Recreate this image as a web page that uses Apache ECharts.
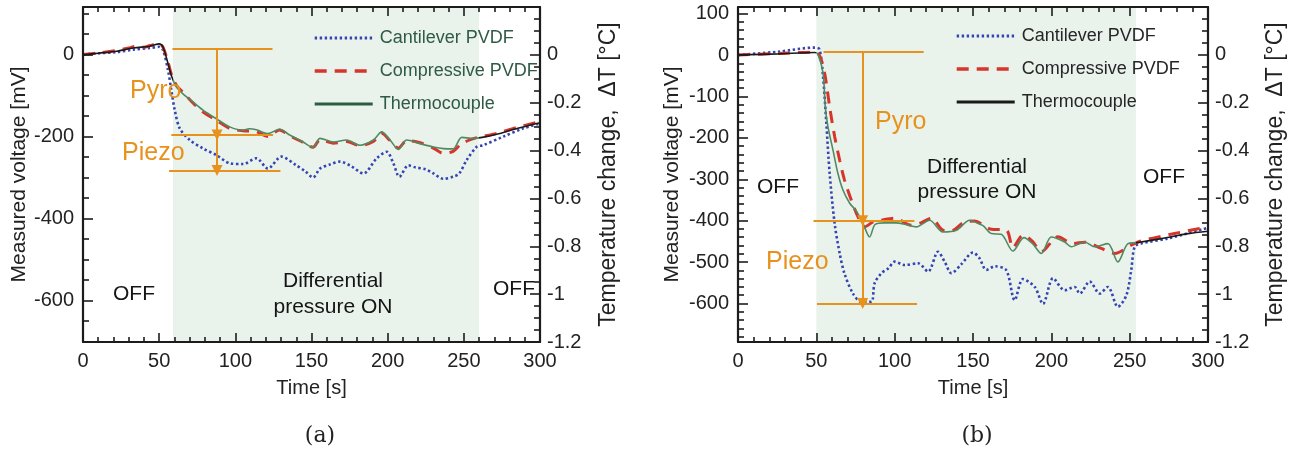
<!DOCTYPE html>
<html><head><meta charset="utf-8">
<script src="https://cdn.jsdelivr.net/npm/echarts@6/dist/echarts.min.js"></script>
<style>html,body{margin:0;padding:0;background:#fff}#c{width:1302px;height:452px}</style>
</head><body><div id="c"></div>
<script>
// ---------- data: panel (a) ----------
const aCantT = [0,10,22,33,44,50,52.5,55.8,58,60.2,63.5,70,78.8,87.5,96.3,105,113.8,121.4,130.2,140,146,151,155.6,162,168.7,176,184,192.8,199.4,203.7,207.7,213.6,218,225,230,236.6,243,247,251.9,258.5,262.8,276,289,300];
const aCantV = [0,3,6,12,16,19,11,-38,-87,-135,-180,-208,-229,-245,-265,-267,-253,-278,-249,-270,-285,-300,-278,-268,-261,-272,-290,-253,-237,-265,-298,-270,-275,-280,-290,-303,-298,-290,-257,-225,-221,-200,-180,-168];
const aCompT = [0,10,22,30,35,40,44,50,52.5,55.8,58,61.3,65.6,72.2,78.8,87.5,96.3,105,113.8,121.4,129,135.7,144.4,151,155.6,164.4,173,181.9,190.6,196.1,201.6,207,212.5,221.3,230,236.6,243,248.6,256.3,262,271.6,284.8,300];
const aCompV = [0,4,10,16,20,18,22,27,18,-18,-48,-75,-92,-118,-140,-160,-180,-186,-188,-200,-184,-198,-214,-226,-208,-216,-212,-222,-212,-192,-210,-228,-210,-215,-228,-241,-236,-217,-205,-200,-192,-178,-163];
const aThermoT = [0,10,22,33,44,50,52.5,55.8,58,61.3,65.6,72.2,78.8,87.5,96.3,105,109,113.8,121.4,129,135.7,144.4,151,155.6,164.4,173,181.9,190.6,196.1,201.6,207,212.5,221.3,230,236.6,243,248.6,256.3,262,271.6,284.8,300];
const aThermoC = [0,0.007,0.015,0.029,0.036,0.046,0.033,-0.036,-0.086,-0.134,-0.163,-0.197,-0.231,-0.267,-0.301,-0.315,-0.309,-0.313,-0.329,-0.311,-0.335,-0.364,-0.387,-0.349,-0.364,-0.356,-0.378,-0.356,-0.322,-0.356,-0.395,-0.356,-0.371,-0.385,-0.392,-0.393,-0.345,-0.349,-0.345,-0.332,-0.308,-0.284];
const aOn = [59, 260];
// orange annotation (a): [x1, y1, x2, y2] in data units (mV)
const aLevels = [[58.7,15,124.4,15],[58,-196,124.8,-196],[56.5,-283,129.6,-283]];
const aArrowX = 88;

// ---------- data: panel (b) ----------
const bCantT = [0,25.5,49,52,54.3,56.4,58.5,61.7,64.9,68,73.4,78.7,85.1,87.2,91.5,96,100,106.4,115,121.3,127.7,132,136.2,142.6,150,154,158.5,164,171.3,176.6,181.9,189.4,194.7,201.1,208.5,214.9,218.1,224.5,230.9,236.1,242.5,247.9,251,253.2,257.4,274.5,300];
const bCantV = [0,8,18,14,-52,-165,-286,-407,-479,-528,-576,-596,-596,-551,-527,-515,-499,-507,-503,-523,-475,-500,-527,-505,-477,-490,-519,-510,-520,-592,-541,-560,-601,-539,-568,-560,-576,-547,-576,-560,-608,-580,-519,-463,-455,-443,-417];
const bCompT = [0,25.5,49,51,53.2,55.7,58.5,61.7,64.9,68,72.3,76.6,80.9,86.2,91.5,100,110.6,117,123.4,130.8,136,144.7,151,161,171.3,175.5,181.9,188,193.6,204.2,213.9,221.3,231.9,240.4,251,257.4,278.7,300];
const bCompV = [0,3.6,7,5,-12,-52,-125,-197,-254,-302,-350,-391,-415,-403,-399,-394,-411,-405,-394,-423,-425,-403,-401,-420,-423,-465,-435,-450,-475,-439,-455,-452,-467,-479,-459,-449,-431,-415];
const bThermoT = [0,25.5,49,51,54.3,55.7,57.4,60.6,63.8,67,71.3,75.5,79.8,84,87.5,93.6,101,107,113.8,122.3,130.8,139.4,147.9,151,156.4,161.7,168,175.5,182.5,188,193.6,200,208.5,212.8,221.3,227.6,236.1,242.5,248.9,254.2,270.2,287.2,300];
const bThermoC = [0,0.004,0.010,0.003,-0.076,-0.217,-0.300,-0.397,-0.496,-0.565,-0.620,-0.652,-0.705,-0.761,-0.709,-0.702,-0.702,-0.709,-0.719,-0.691,-0.740,-0.733,-0.691,-0.698,-0.714,-0.747,-0.750,-0.820,-0.764,-0.789,-0.830,-0.761,-0.782,-0.802,-0.782,-0.802,-0.789,-0.865,-0.789,-0.785,-0.768,-0.747,-0.737];
const bOn = [50, 254];
const bLevels = [[54.6,8,118.5,8],[48.2,-400,112.6,-400],[50.4,-600,114.3,-600]];
const bArrowX = 79.6;

// ---------- ticks ----------
const aLeftMajor = [-600,-400,-200,0];
const bLeftMajor = [-600,-500,-400,-300,-200,-100,0,100];
const aLeftMinor = []; for (let v = -700; v <= 100; v += 50) if (v % 200 !== 0) aLeftMinor.push(v);
const bLeftMinor = []; for (let v = -680; v <= 100; v += 20) if (v % 100 !== 0) bLeftMinor.push(v);

const zip = (t, v) => t.map((x, i) => [x, v[i]]);
const FONT = '"Liberation Sans", Arial, sans-serif';
const AX = '#1c1c1c';
const ORANGE = '#e8921e';
const BLUE = '#3444b2';
const RED = '#d6352b';
const GREEN = '#4f8a63';
const SHADE = '#e9f3ec';
const NONE = 'rgba(0,0,0,0)';

function xAxesFor(g) {
  const common = {gridIndex: g, type: 'value', min: 0, max: 300, interval: 50,
    axisLine: {onZero: false, lineStyle: {color: AX, width: 2.2}},
    axisTick: {inside: true, length: 9, lineStyle: {color: AX, width: 1.6}},
    minorTick: {show: true, splitNumber: 5, length: 5, lineStyle: {color: AX, width: 1.6}},
    splitLine: {show: false}, minorSplitLine: {show: false}, z: 10};
  return [
    Object.assign({}, common, {position: 'bottom',
      axisLabel: {margin: 9, fontSize: 20, color: '#222', fontFamily: FONT},
      name: 'Time [s]', nameLocation: 'middle', nameGap: 36,
      nameTextStyle: {fontSize: 20, color: '#222', fontFamily: FONT}}),
    Object.assign({}, common, {position: 'top', axisLabel: {show: false}})
  ];
}
function yAxesFor(g, min, max, majors, minors, gapL, gapR) {
  return [
    {gridIndex: g, type: 'value', min: min, max: max, position: 'left', z: 10,
      axisLine: {onZero: false, lineStyle: {color: AX, width: 2.2}},
      axisTick: {inside: true, length: 10, customValues: majors, lineStyle: {color: AX, width: 1.6}},
      axisLabel: {customValues: majors, margin: 9, fontSize: 20, color: '#222', fontFamily: FONT},
      splitLine: {show: false},
      name: 'Measured voltage [mV]', nameLocation: 'middle', nameGap: gapL, nameRotate: 90,
      nameTextStyle: {fontSize: 21, color: '#222', fontFamily: FONT}},
    {gridIndex: g, type: 'value', min: min, max: max, position: 'left', z: 10,
      axisLine: {show: false},
      axisTick: {inside: true, length: 6, customValues: minors, lineStyle: {color: AX, width: 1.6}},
      axisLabel: {show: false}, splitLine: {show: false}},
    {gridIndex: g, type: 'value', min: -1.2, max: 0.2, interval: 0.2, position: 'right', z: 10,
      axisLine: {onZero: false, lineStyle: {color: AX, width: 2.2}},
      axisTick: {inside: true, length: 10, lineStyle: {color: AX, width: 1.6}},
      minorTick: {show: true, splitNumber: 4, length: 6, lineStyle: {color: AX, width: 1.6}},
      axisLabel: {margin: 7, fontSize: 20, color: '#222', fontFamily: FONT, showMaxLabel: false,
        formatter: v => { const r = Math.round(v * 10) / 10; return r === 0 ? '0' : String(r); }},
      splitLine: {show: false},
      name: 'Temperature change,  ΔT [°C]', nameLocation: 'middle', nameGap: gapR, nameRotate: 90,
      nameTextStyle: {fontSize: 23, color: '#222', fontFamily: FONT}}
  ];
}
function orangeLines(levels, ax) {
  const d = levels.map(l => [{coord: [l[0], l[1]], symbol: 'none'}, {coord: [l[2], l[3]], symbol: 'none'}]);
  d.push([{coord: [ax, levels[0][1]], symbol: 'none'}, {coord: [ax, levels[1][1]], symbol: 'triangle', symbolSize: [11, 11]}]);
  d.push([{coord: [ax, levels[1][1]], symbol: 'none'}, {coord: [ax, levels[2][1]], symbol: 'triangle', symbolSize: [11, 11]}]);
  return {silent: true, animation: false, symbol: 'none', label: {show: false},
    lineStyle: {color: ORANGE, width: 2, type: 'solid'}, emphasis: {disabled: true}, data: d};
}
function seriesFor(xi, yl, yr, cant, comp, thermo, on, levels, ax) {
  return [
    {name: 'Cantilever PVDF', type: 'line', xAxisIndex: xi, yAxisIndex: yl, data: cant,
      showSymbol: false, symbol: 'none', smooth: 0.3, z: 3,
      lineStyle: {color: BLUE, width: 2.6, type: [2.4, 2.6]}, itemStyle: {color: BLUE},
      markArea: {silent: true, z: 1, itemStyle: {color: SHADE}, data: [[{xAxis: on[0]}, {xAxis: on[1]}]]},
      markLine: orangeLines(levels, ax)},
    {name: 'Compressive PVDF', type: 'line', xAxisIndex: xi, yAxisIndex: yl, data: comp,
      showSymbol: false, symbol: 'none', smooth: 0.3, z: 3,
      lineStyle: {color: RED, width: 3, type: [12, 8]}, itemStyle: {color: RED}},
    {name: 'Thermocouple', type: 'line', xAxisIndex: xi, yAxisIndex: yr, data: thermo,
      showSymbol: false, symbol: 'none', smooth: 0.3, z: 4,
      lineStyle: {width: 1.6}, itemStyle: {color: '#1a1a1a'}}
  ];
}
function legendFor(left, top, textColor, thermoColor) {
  const hide = {color: NONE, borderColor: NONE, borderWidth: 0, opacity: 0};
  return {left: left, top: top, orient: 'vertical', itemWidth: 58, itemHeight: 18, itemGap: 15,
    padding: 0, selectedMode: false, z: 6, itemStyle: hide,
    textStyle: {fontSize: 18, color: textColor, fontFamily: FONT, padding: [0, 0, 0, 2], lineHeight: 18},
    data: [
      {name: 'Cantilever PVDF', itemStyle: hide, lineStyle: {color: BLUE, width: 3, type: [2.4, 2.6]}},
      {name: 'Compressive PVDF', itemStyle: hide, lineStyle: {color: RED, width: 3.4, type: [12, 8]}},
      {name: 'Thermocouple', itemStyle: hide, lineStyle: {color: thermoColor, width: 3, type: 'solid'}}]};
}
function txt(x, y, s, size, color, align, lh) {
  return {type: 'text', x: x, y: y, z: 20, silent: true,
    style: {text: s, fill: color, font: size + 'px ' + FONT, align: align || 'left', verticalAlign: 'middle', lineHeight: lh || size}};
}

const option = {
  animation: false,
  backgroundColor: '#fff',
  grid: [
    {left: 83, top: 7, width: 457, height: 335},
    {left: 738, top: 7, width: 470, height: 335}
  ],
  xAxis: xAxesFor(0).concat(xAxesFor(1)),
  yAxis: yAxesFor(0, -701, 116, aLeftMajor, aLeftMinor, 52, 57).concat(yAxesFor(1, -693, 116, bLeftMajor, bLeftMinor, 55, 56)),
  legend: [legendFor(313, 29, '#2f5a45', '#2e5c40'), legendFor(955, 27, '#262626', '#1a1a1a')],
  visualMap: [
    {type: 'piecewise', show: false, seriesIndex: 2, dimension: 0,
      pieces: [{lt: aOn[0], color: '#1a1a1a'}, {gte: aOn[0], lte: aOn[1], color: GREEN}, {gt: aOn[1], color: '#1a1a1a'}]},
    {type: 'piecewise', show: false, seriesIndex: 5, dimension: 0,
      pieces: [{lt: bOn[0], color: '#1a1a1a'}, {gte: bOn[0], lte: bOn[1], color: GREEN}, {gt: bOn[1], color: '#1a1a1a'}]}
  ],
  series: seriesFor(0, 0, 2, zip(aCantT, aCantV), zip(aCompT, aCompV), zip(aThermoT, aThermoC), aOn, aLevels, aArrowX)
    .concat(seriesFor(2, 3, 5, zip(bCantT, bCantV), zip(bCompT, bCompV), zip(bThermoT, bThermoC), bOn, bLevels, bArrowX)),
  graphic: [
    txt(130, 91, 'Pyro', 25, ORANGE), txt(122, 153, 'Piezo', 25, ORANGE),
    txt(113, 294, 'OFF', 21, '#151515'), txt(333, 294, 'Differential\npressure ON', 21, '#151515', 'center', 26),
    txt(493, 289, 'OFF', 21, '#151515'),
    txt(875, 122, 'Pyro', 25, ORANGE), txt(766, 262, 'Piezo', 25, ORANGE),
    txt(757, 187, 'OFF', 21, '#151515'), txt(977, 180, 'Differential\npressure ON', 21, '#151515', 'center', 25),
    txt(1143, 177, 'OFF', 21, '#151515'),
    {type: 'text', x: 320, y: 436, z: 20, style: {text: '(a)', fill: '#222', font: '22px "DejaVu Serif", serif', align: 'center', verticalAlign: 'middle'}},
    {type: 'text', x: 977, y: 436, z: 20, style: {text: '(b)', fill: '#222', font: '22px "DejaVu Serif", serif', align: 'center', verticalAlign: 'middle'}}
  ]
};
const chart = echarts.init(document.getElementById('c'));
chart.setOption(option);
</script>
</body></html>
